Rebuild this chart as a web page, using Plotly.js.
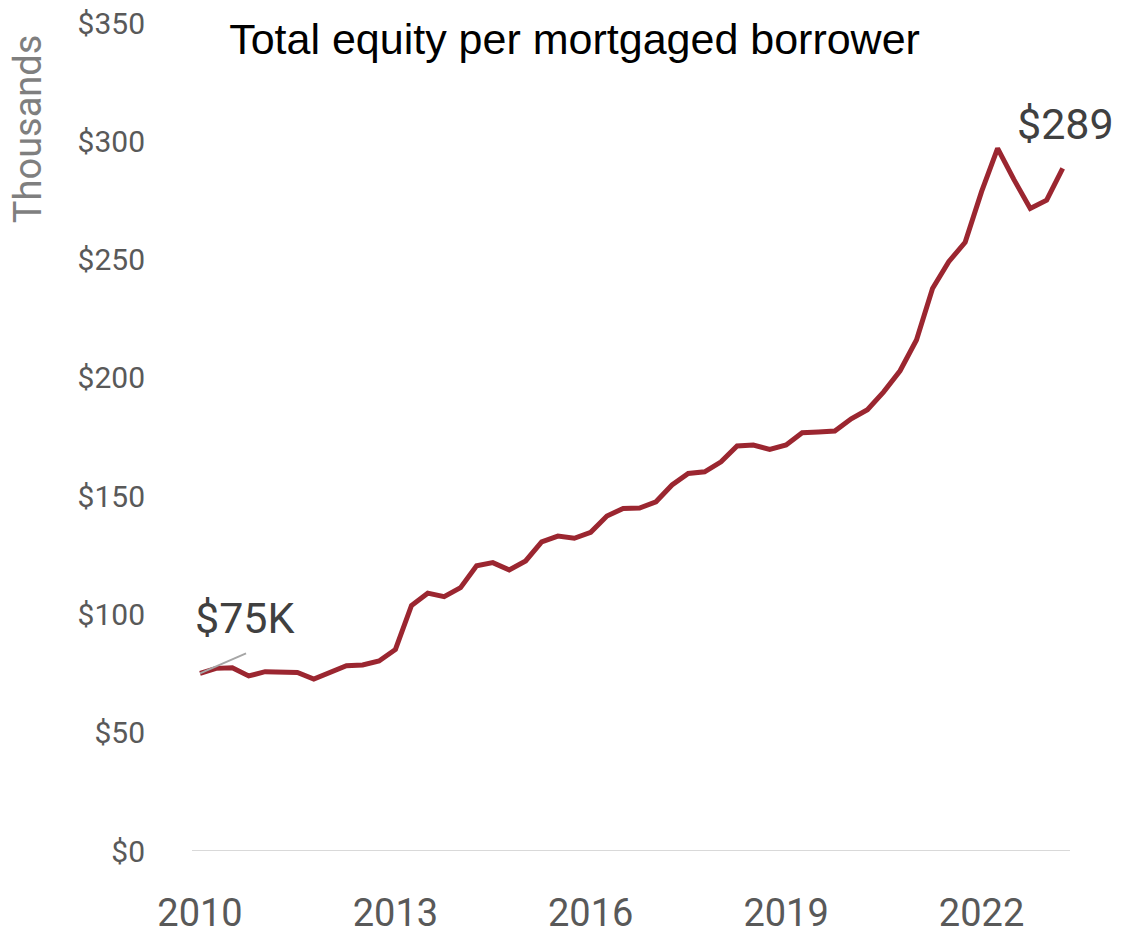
<!DOCTYPE html>
<html>
<head>
<meta charset="utf-8">
<script src="https://cdn.plot.ly/plotly-3.0.1.min.js"></script>
<style>html,body{margin:0;padding:0;background:#fff;}#chart{width:1122px;height:939px;}</style>
</head>
<body>
<div id="chart"></div>
<script>
const quarters = [
  '2010-01-01','2010-04-01','2010-07-01','2010-10-01',
  '2011-01-01','2011-04-01','2011-07-01','2011-10-01',
  '2012-01-01','2012-04-01','2012-07-01','2012-10-01',
  '2013-01-01','2013-04-01','2013-07-01','2013-10-01',
  '2014-01-01','2014-04-01','2014-07-01','2014-10-01',
  '2015-01-01','2015-04-01','2015-07-01','2015-10-01',
  '2016-01-01','2016-04-01','2016-07-01','2016-10-01',
  '2017-01-01','2017-04-01','2017-07-01','2017-10-01',
  '2018-01-01','2018-04-01','2018-07-01','2018-10-01',
  '2019-01-01','2019-04-01','2019-07-01','2019-10-01',
  '2020-01-01','2020-04-01','2020-07-01','2020-10-01',
  '2021-01-01','2021-04-01','2021-07-01','2021-10-01',
  '2022-01-01','2022-04-01','2022-07-01','2022-10-01',
  '2023-01-01','2023-04-01'
];
const equityThousands = [
  75.1, 77.2, 77.5, 74.0,
  75.8, 75.6, 75.5, 72.7,
  75.5, 78.3, 78.6, 80.3,
  85.2, 103.8, 109.0, 107.5,
  111.3, 120.6, 121.9, 118.8,
  122.6, 130.7, 133.1, 132.2,
  134.7, 141.6, 144.8, 145.0,
  147.6, 154.7, 159.6, 160.3,
  164.5, 171.2, 171.6, 169.8,
  171.6, 176.8, 177.1, 177.5,
  182.7, 186.5, 194.1, 203.0,
  216.0, 237.8, 249.1, 257.3,
  278.7, 297.0, 283.9, 271.6,
  275.1, 288.5
];
const xTickVals = ['2010-01-01','2013-01-01','2016-01-01','2019-01-01','2022-01-01'];
const xTickText = ['2010','2013','2016','2019','2022'];
const yTickVals = [0,50,100,150,200,250,300,350];
const yTickText = ['$0','$50','$100','$150','$200','$250','$300','$350'];
const startLabel = '$75K';
const endLabel = '$289';

const trace = {
  x: quarters,
  y: equityThousands,
  type: 'scatter',
  mode: 'lines',
  line: {color: '#9b2630', width: 5},
  hoverinfo: 'skip'
};

const layout = {
  width: 1122, height: 939,
  margin: {l: 192, r: 52, t: 23, b: 88, pad: 0},
  paper_bgcolor: '#ffffff', plot_bgcolor: '#ffffff',
  showlegend: false,
  title: {
    text: 'Total equity per mortgaged borrower',
    font: {family: 'Liberation Sans, Arial, sans-serif', size: 43, color: '#000000'},
    xref: 'paper', x: 0.4357, xanchor: 'center',
    yref: 'container', y: 1 - 39/939, yanchor: 'middle'
  },
  xaxis: {
    type: 'date',
    range: ['2009-11-17', '2023-05-12'],
    tickmode: 'array', tickvals: xTickVals, ticktext: xTickText,
    showgrid: false, zeroline: false, showline: false, ticks: '',
    ticklabelstandoff: 36,
    tickfont: {family: 'Roboto, sans-serif', size: 38, color: '#595959'}
  },
  yaxis: {
    range: [0, 350],
    tickmode: 'array', tickvals: yTickVals, ticktext: yTickText,
    showgrid: false, zeroline: false, showline: false, ticks: '',
    ticklabelstandoff: 46,
    tickfont: {family: 'Roboto, sans-serif', size: 30, color: '#595959'}
  },
  shapes: [
    {type: 'line', xref: 'paper', yref: 'y', x0: 0, x1: 1, y0: 0, y1: 0,
     line: {color: '#d9d9d9', width: 2}, layer: 'below'},
    {type: 'line', xref: 'x', yref: 'y', xsizemode: 'pixel', ysizemode: 'pixel',
     xanchor: quarters[0], yanchor: equityThousands[0],
     x0: 0, x1: 46, y0: 0, y1: 20,
     line: {color: '#a6a6a6', width: 2}}
  ],
  annotations: [
    {text: 'Thousands', textangle: -90, showarrow: false,
     xref: 'paper', yref: 'paper', x: -0.1868, y: 0.873, xanchor: 'center', yanchor: 'middle',
     font: {family: 'Roboto, sans-serif', size: 38, color: '#7f7f7f'}},
    {text: startLabel, showarrow: false, xref: 'x', yref: 'y',
     x: quarters[0], y: 98.5, xanchor: 'left', yanchor: 'middle', xshift: -7,
     font: {family: 'Roboto, sans-serif', size: 43, color: '#404040'}},
    {text: endLabel, showarrow: false, xref: 'x', yref: 'y',
     x: quarters[quarters.length-1], y: 307.3, xanchor: 'center', yanchor: 'middle', xshift: 3,
     font: {family: 'Roboto, sans-serif', size: 43, color: '#404040'}}
  ]
};

Plotly.newPlot('chart', [trace], layout, {displayModeBar: false, staticPlot: true});
</script>
</body>
</html>
